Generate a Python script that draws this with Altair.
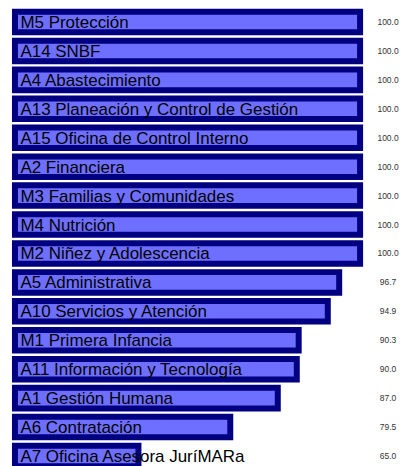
import altair as alt
import pandas as pd

labels = [
    "M5 Protección",
    "A14 SNBF",
    "A4 Abastecimiento",
    "A13 Planeación y Control de Gestión",
    "A15 Oficina de Control Interno",
    "A2 Financiera",
    "M3 Familias y Comunidades",
    "M4 Nutrición",
    "M2 Niñez y Adolescencia",
    "A5 Administrativa",
    "A10 Servicios y Atención",
    "M1 Primera Infancia",
    "A11 Información y Tecnología",
    "A1 Gestión Humana",
    "A6 Contratación",
    "A7 Oficina Asesora JuríMARa",
]
values = [100.0, 100.0, 100.0, 100.0, 100.0, 100.0, 100.0, 100.0, 100.0,
          96.7, 94.9, 90.3, 90.0, 87.0, 79.5, 65.0]
value_text = [f"{v:.1f}" for v in values]

BASE = 45.5
X_DOMAIN = [44.4, 100]

df = pd.DataFrame({
    "label": labels,
    "value": values,
    "vtext": value_text,
    "base": [BASE] * len(labels),
})

y = alt.Y("label:N", sort=labels, axis=None,
          scale=alt.Scale(paddingInner=0.29, paddingOuter=0.04))
xscale = alt.Scale(domain=X_DOMAIN, nice=False, zero=False)

bars = alt.Chart(df).mark_bar(
    fill="#6f6fff", stroke="#000080", strokeWidth=6, cornerRadius=0
).encode(
    x=alt.X("value:Q", scale=xscale, axis=None),
    x2="base:Q",
    y=y,
)

names = alt.Chart(df).mark_text(
    align="left", baseline="middle", dx=5.5, dy=1, fontSize=17,
    font="Liberation Sans", color="#000000"
).encode(
    x=alt.X("base:Q", scale=xscale, axis=None),
    y=y,
    text="label:N",
)

nums = alt.Chart(df).mark_text(
    align="center", baseline="middle", dy=0, fontSize=8.5,
    font="Liberation Sans", color="#333333"
).encode(
    x=alt.value(381),
    y=y,
    text="vtext:N",
)

chart = alt.layer(bars, names, nums).properties(
    width=353, height=458, padding=0
).configure_view(stroke=None)

chart.save("out.html", embed_options={"renderer": "svg", "actions": False})
